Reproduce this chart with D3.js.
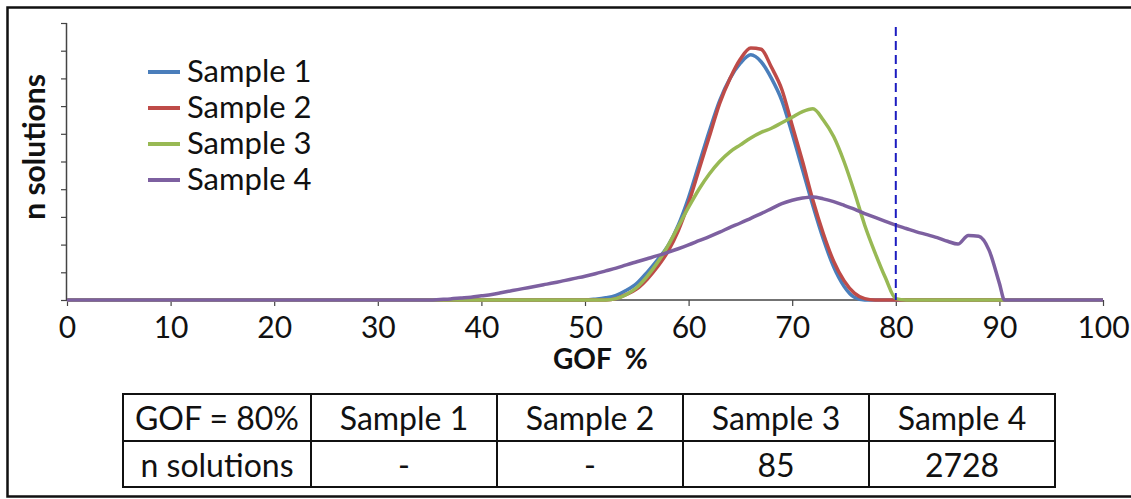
<!DOCTYPE html>
<html>
<head>
<meta charset="utf-8">
<script src="https://cdn.jsdelivr.net/npm/d3@7"></script>
<style>
  body { margin: 0; background: #fff; }
  text { font-family: Lato, "Open Sans", sans-serif; fill: #111; }
</style>
</head>
<body>
<svg id="chart" width="1131" height="499"></svg>
<script>
'use strict';

// GOF % positions shared by every series
var gof = [0].concat(d3.range(35, 91), [90.5, 91, 100]);

var sample1 = [0,
  0,0,0,0,0,0,0,0,0,0,0,0,0,0,0,0,                       // 35-50
  0.03,0.08,0.17,0.35,0.6,1.0,1.45,1.95,2.7,3.7,4.9,6.1,7.2,8.0,8.55,8.85,
  8.6,8.0,7.2,6.0,4.7,3.4,2.2,1.2,0.5,0.1,               // 51-76
  0,0,0,0,0,0,0,0,0,0,0,0,0,0,                           // 77-90
  0,0,0];

var sample2 = [0,
  0,0,0,0,0,0,0,0,0,0,0,0,0,0,0,0,0,0,                   // 35-52
  0.05,0.2,0.4,0.75,1.2,1.75,2.5,3.5,4.7,5.9,7.1,8.0,8.7,9.1,
  9.05,8.4,7.6,6.3,5.0,3.6,2.4,1.4,0.7,0.25,0.05,        // 53-77
  0,0,0,0,0,0,0,0,0,0,0,0,0,                             // 78-90
  0,0,0];

var sample3 = [0,
  0,0,0,0,0,0,0,0,0,0,0,0,0,0,0,0,0,0,                   // 35-52
  0.05,0.2,0.45,0.85,1.35,1.95,2.65,3.35,4.0,4.55,5.0,5.35,5.6,5.85,
  6.05,6.2,6.4,6.6,6.8,6.9,6.5,5.9,5.0,3.9,2.7,1.7,0.8,0.05, // 53-80
  0,0,0,0,0,0,0,0,0,0,                                   // 81-90
  0,0,0];

var sample4 = [0,
  0,0.02,0.04,0.07,0.1,0.15,0.2,0.27,0.34,0.41,0.48,0.55,0.62,0.7,0.78,0.86,
  0.95,1.05,1.15,1.27,1.38,1.49,1.6,1.72,1.85,1.99,2.14,2.29,2.45,2.62,2.78,
  2.95,3.12,3.3,3.48,3.6,3.68,3.72,3.65,3.55,3.42,3.28,3.12,2.98,2.84,2.7,
  2.58,2.46,2.36,2.25,2.12,2.02,2.33,2.3,1.8,0.6,        // 35-90
  0,0,0];

var seriesNames = ['Sample 1', 'Sample 2', 'Sample 3', 'Sample 4'];
var seriesColors = ['#4a7ebb', '#be4b48', '#98b954', '#7d60a0'];
var xTicks = [0, 10, 20, 30, 40, 50, 60, 70, 80, 90, 100];
var cutoff = 80;

var tableHeader = ['GOF = 80%', 'Sample 1', 'Sample 2', 'Sample 3', 'Sample 4'];
var tableRow = ['n solutions', '-', '-', '85', '2728'];

var allSeries = [sample1, sample2, sample3, sample4];
allSeries.forEach(function(s, i) {
  if (s.length !== gof.length) console.log('length mismatch', i, s.length, gof.length);
});

//---------------------------------------------------------------------------

var svg = d3.select('#chart');

// picture frame
svg.append('path')
  .attr('d', 'M1131,7.5 H7.5 V496.5 H1131')
  .attr('fill', 'none')
  .attr('stroke', '#111')
  .attr('stroke-width', 2.5);

var x = d3.scaleLinear().domain([0, 100]).range([67, 1103]);
var y = d3.scaleLinear().domain([0, 10]).range([300, 23]);

// y axis: ticks only, no labels
var yAxis = svg.append('g')
  .attr('transform', 'translate(67,0)')
  .call(d3.axisLeft(y).ticks(10).tickSize(6).tickFormat(''));
yAxis.select('.domain').attr('stroke', '#444').attr('stroke-width', 1.5).attr('d', 'M-0.5,300V23');
yAxis.selectAll('.tick line').attr('stroke', '#444').attr('stroke-width', 1.2);

var xAxis = svg.append('g')
  .attr('transform', 'translate(0,300)')
  .call(d3.axisBottom(x).tickValues(xTicks).tickSize(6).tickFormat(d3.format('d')));
xAxis.select('.domain').attr('stroke', '#444').attr('stroke-width', 1.5).attr('d', 'M67,0H1103');
xAxis.selectAll('.tick line').attr('stroke', '#444').attr('stroke-width', 1.2);
xAxis.selectAll('.tick text')
  .attr('y', 38).attr('dy', 0)
  .style('font-size', '30px')
  .style('font-family', 'Lato, sans-serif')
  .attr('fill', '#111');

// series lines
var line = d3.line()
  .x(function(d) { return x(d[0]); })
  .y(function(d) { return y(d[1]); })
  .curve(d3.curveMonotoneX);

allSeries.forEach(function(s, i) {
  svg.append('path')
    .datum(gof.map(function(g, j) { return [g, s[j]]; }))
    .attr('fill', 'none')
    .attr('stroke', seriesColors[i])
    .attr('stroke-width', 3.5)
    .attr('stroke-linejoin', 'round')
    .attr('d', line);
});

// GOF cutoff
svg.append('line')
  .attr('x1', x(cutoff)).attr('x2', x(cutoff))
  .attr('y1', 27).attr('y2', y(0))
  .attr('stroke', '#1c1cc0')
  .attr('stroke-width', 2)
  .attr('stroke-dasharray', '9,5');

// axis titles
svg.append('text')
  .attr('transform', 'translate(45,147) rotate(-90)')
  .attr('text-anchor', 'middle')
  .style('font-size', '30px')
  .style('font-weight', 'bold')
  .text('n solutions');

svg.append('text')
  .attr('x', 553).attr('y', 369)
  .style('font-size', '28px')
  .style('font-weight', 'bold')
  .style('white-space', 'pre')
  .text('GOF  %');

// legend
var legend = svg.append('g');
seriesNames.forEach(function(name, i) {
  var ly = 72 + 36 * i;
  legend.append('line')
    .attr('x1', 148).attr('x2', 180)
    .attr('y1', ly).attr('y2', ly)
    .attr('stroke', seriesColors[i])
    .attr('stroke-width', 4);
  legend.append('text')
    .attr('x', 187).attr('y', ly + 10)
    .style('font-size', '31px')
    .text(name);
});

// table under the chart
var colX = [123, 311, 497, 683, 869, 1055];
var rowY = [394, 441, 487];
var table = svg.append('g');
[tableHeader, tableRow].forEach(function(row, r) {
  row.forEach(function(cell, c) {
    table.append('rect')
      .attr('x', colX[c]).attr('y', rowY[r])
      .attr('width', colX[c + 1] - colX[c])
      .attr('height', rowY[r + 1] - rowY[r])
      .attr('fill', 'none')
      .attr('stroke', '#111')
      .attr('stroke-width', 2);
    table.append('text')
      .attr('x', (colX[c] + colX[c + 1]) / 2)
      .attr('y', rowY[r] + 36)
      .attr('text-anchor', 'middle')
      .style('font-size', '32px')
      .text(cell);
  });
});
</script>
</body>
</html>
